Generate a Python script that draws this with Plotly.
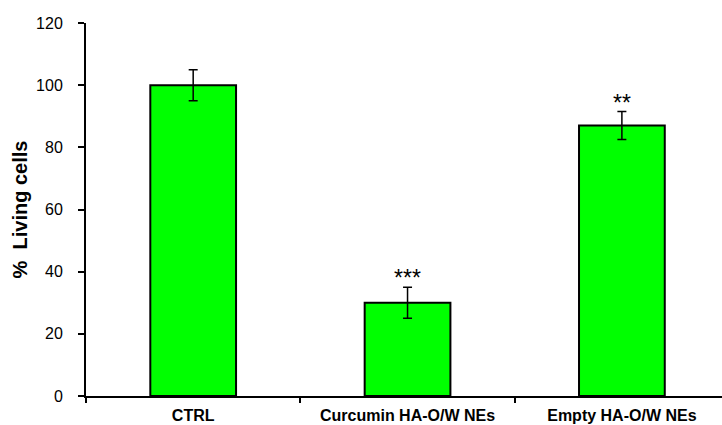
import plotly.graph_objects as go

categories = ["CTRL", "Curcumin HA-O/W NEs", "Empty HA-O/W NEs"]
living_cells = [100, 30, 87]
errors = [5, 5, 4.5]
significance = ["", "***", "**"]
y_ticks = [0, 20, 40, 60, 80, 100, 120]

fig = go.Figure()
fig.add_trace(go.Bar(
    x=categories,
    y=living_cells,
    width=0.40,
    marker=dict(color="#00FF00", line=dict(color="black", width=2)),
    error_y=dict(type="data", array=errors, visible=True,
                 color="black", thickness=1.5, width=4.5),
    showlegend=False,
))

for cat, val, err, sig in zip(categories, living_cells, errors, significance):
    if sig:
        fig.add_annotation(x=cat, y=val + err, text=sig, showarrow=False,
                           yanchor="bottom", yshift=-6,
                           font=dict(family="Liberation Sans, Arial", size=23, color="black"))

fig.update_layout(
    width=722, height=425,
    margin=dict(l=86, r=0, t=23, b=29),
    paper_bgcolor="white", plot_bgcolor="white",
    font=dict(family="Liberation Sans, Arial", color="black"),
    xaxis=dict(
        range=[-0.5, 2.467],
        showline=True, linecolor="black", linewidth=2,
        ticks="outside", tickson="boundaries", ticklen=5, tickwidth=2, tickcolor="black",
        tickfont=dict(size=16, weight="bold"),
        ticklabelstandoff=4,
        automargin=False,
        showgrid=False, zeroline=False,
    ),
    yaxis=dict(
        range=[0, 120], tickvals=y_ticks,
        showline=True, linecolor="black", linewidth=2,
        ticks="outside", ticklen=6, tickwidth=2, tickcolor="black",
        tickfont=dict(size=16),
        ticklabelstandoff=12,
        automargin=False,
        showgrid=False, zeroline=False,
        title=dict(text="%  Living cells", font=dict(size=20, weight="bold"), standoff=3),
    ),
)

fig.write_html("out.html")
